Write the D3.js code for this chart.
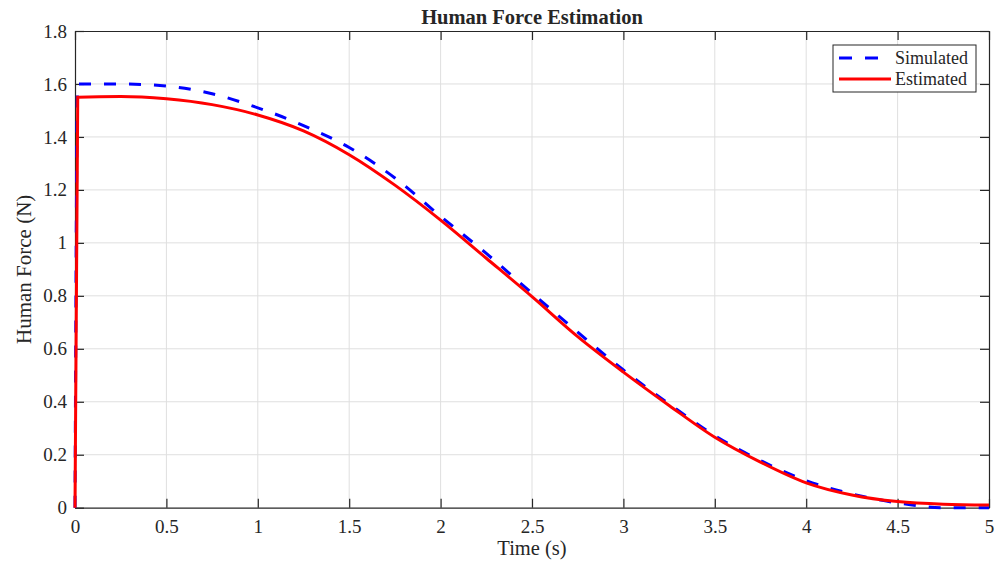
<!DOCTYPE html>
<html>
<head>
<meta charset="utf-8">
<script src="https://cdn.jsdelivr.net/npm/d3@7.9.0/dist/d3.min.js"></script>
<style>
  body { margin: 0; background: #fff; }
  svg { font-family: "Liberation Serif", "Times New Roman", serif; }
</style>
</head>
<body>
<svg id="chart" width="1006" height="570"></svg>
<script>
// values
const time = [0, 0.015, 0.25, 0.5, 0.75, 1.0, 1.25, 1.5, 1.75, 2.0, 2.25, 2.5, 2.75, 3.0, 3.25, 3.5, 3.75, 4.0, 4.25, 4.5, 4.75, 5.0];
const simulated = [0, 1.6, 1.6, 1.592, 1.563, 1.51, 1.443, 1.36, 1.245, 1.10, 0.96, 0.81, 0.663, 0.52, 0.392, 0.272, 0.178, 0.102, 0.052, 0.018, 0.0, 0.0];
const estimated = [0, 1.55, 1.553, 1.544, 1.522, 1.483, 1.423, 1.333, 1.218, 1.086, 0.942, 0.797, 0.646, 0.512, 0.386, 0.266, 0.172, 0.094, 0.048, 0.023, 0.013, 0.010];

const xTicks = [0, 0.5, 1, 1.5, 2, 2.5, 3, 3.5, 4, 4.5, 5];
const yTicks = [0, 0.2, 0.4, 0.6, 0.8, 1, 1.2, 1.4, 1.6, 1.8];
const seriesNames = ['Simulated', 'Estimated'];

const axisColor = '#262626';
const plotLeft = 75, plotRight = 989, plotTop = 31, plotBottom = 507.7;

const svg = d3.select('#chart');

const x = d3.scaleLinear().domain([0, 5]).range([plotLeft, plotRight]);
const y = d3.scaleLinear().domain([0, 1.8]).range([plotBottom, plotTop]);

// grid
svg.append('g')
  .selectAll('line')
  .data(xTicks.slice(1, -1))
  .join('line')
  .attr('x1', d => x(d)).attr('x2', d => x(d))
  .attr('y1', plotTop).attr('y2', plotBottom)
  .attr('stroke', '#dfdfdf').attr('stroke-width', 1);

svg.append('g')
  .selectAll('line')
  .data(yTicks.slice(1, -1))
  .join('line')
  .attr('x1', plotLeft).attr('x2', plotRight)
  .attr('y1', d => y(d)).attr('y2', d => y(d))
  .attr('stroke', '#dfdfdf').attr('stroke-width', 1);

// axes (ticks point inward, box on all sides)
const tickLen = 9;
const fmt = d => d3.format('')(d);

const xAxis = svg.append('g')
  .attr('transform', `translate(0,${plotBottom})`)
  .call(d3.axisBottom(x).tickValues(xTicks).tickSizeInner(-tickLen).tickSizeOuter(0).tickPadding(11.5).tickFormat(fmt));
const xTopAxis = svg.append('g')
  .attr('transform', `translate(0,${plotTop})`)
  .call(d3.axisTop(x).tickValues(xTicks).tickSizeInner(-tickLen).tickSizeOuter(0).tickFormat(''));
const yAxis = svg.append('g')
  .attr('transform', `translate(${plotLeft},0)`)
  .call(d3.axisLeft(y).tickValues(yTicks).tickSizeInner(-tickLen).tickSizeOuter(0).tickPadding(8).tickFormat(fmt));
const yRightAxis = svg.append('g')
  .attr('transform', `translate(${plotRight},0)`)
  .call(d3.axisRight(y).tickValues(yTicks).tickSizeInner(-tickLen).tickSizeOuter(0).tickFormat(''));

[xAxis, xTopAxis, yAxis, yRightAxis].forEach(g => {
  g.select('.domain').attr('stroke', axisColor).attr('stroke-width', 1.2);
  g.selectAll('.tick line').attr('stroke', axisColor).attr('stroke-width', 1.2);
  g.selectAll('.tick text')
    .attr('fill', axisColor)
    .style('font-family', '"Liberation Serif", serif')
    .style('font-size', '19px');
});

// lines
const line = d3.line()
  .x((d, i) => x(time[i]))
  .y(d => y(d))
  .curve(d3.curveMonotoneX);

svg.append('path')
  .datum(simulated)
  .attr('d', line)
  .attr('fill', 'none')
  .attr('stroke', '#0000ff')
  .attr('stroke-width', 3)
  .attr('stroke-dasharray', '12,13');

svg.append('path')
  .datum(estimated)
  .attr('d', line)
  .attr('fill', 'none')
  .attr('stroke', '#ff0000')
  .attr('stroke-width', 3);

// title and labels
svg.append('text')
  .attr('x', (plotLeft + plotRight) / 2).attr('y', 24)
  .attr('text-anchor', 'middle')
  .attr('fill', axisColor)
  .style('font-size', '20.5px').style('font-weight', 'bold')
  .text('Human Force Estimation');

svg.append('text')
  .attr('x', (plotLeft + plotRight) / 2).attr('y', 555)
  .attr('text-anchor', 'middle')
  .attr('fill', axisColor)
  .style('font-size', '20.5px')
  .text('Time (s)');

svg.append('text')
  .attr('transform', `translate(31,${(plotTop + plotBottom) / 2}) rotate(-90)`)
  .attr('text-anchor', 'middle')
  .attr('fill', axisColor)
  .style('font-size', '21px')
  .text('Human Force (N)');

// legend
const legend = svg.append('g');
legend.append('rect')
  .attr('x', 833).attr('y', 45).attr('width', 143).attr('height', 47)
  .attr('fill', '#fff').attr('stroke', axisColor).attr('stroke-width', 1);

const legendItems = legend.selectAll('g.item')
  .data(seriesNames)
  .join('g')
  .attr('class', 'item')
  .attr('transform', (d, i) => `translate(0,${58 + i * 21})`);

legendItems.append('line')
  .attr('x1', 839).attr('x2', 891)
  .attr('stroke', (d, i) => i === 0 ? '#0000ff' : '#ff0000')
  .attr('stroke-width', 3)
  .attr('stroke-dasharray', (d, i) => i === 0 ? '13,13' : null);

legendItems.append('text')
  .attr('x', 895).attr('y', 6)
  .attr('fill', axisColor)
  .style('font-size', '18px')
  .text(d => d);
</script>
</body>
</html>
